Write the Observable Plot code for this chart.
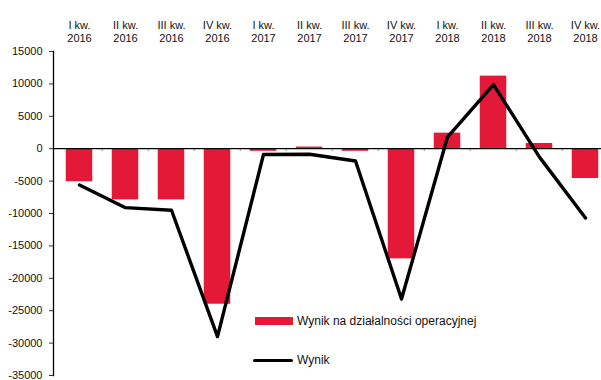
<!DOCTYPE html>
<html>
<head>
<meta charset="utf-8">
<script src="https://cdn.jsdelivr.net/npm/d3@7"></script>
<script src="https://cdn.jsdelivr.net/npm/@observablehq/plot@0.6"></script>
<style>
  html, body { margin: 0; padding: 0; background: #fff; overflow: hidden; }
  #wrap { position: relative; width: 601px; height: 380px; overflow: hidden; font-family: "Liberation Sans", Arial, sans-serif; }
  #wrap svg { max-width: none !important; height: 380px !important; width: 611px !important; }
  .leg { position: absolute; font-size: 12px; color: #111; display: flex; align-items: center; white-space: nowrap; }
  .sw { display: inline-block; margin-right: 4px; }
</style>
</head>
<body>
<div id="wrap"></div>
<script>
const categories = ["I kw.\n2016", "II kw.\n2016", "III kw.\n2016", "IV kw.\n2016",
  "I kw.\n2017", "II kw.\n2017", "III kw.\n2017", "IV kw.\n2017",
  "I kw.\n2018", "II kw.\n2018", "III kw.\n2018", "IV kw.\n2018"];
const operacyjny = [-5100, -7900, -7900, -24000, -400, 250, -400, -17000, 2400, 11200, 800, -4600];
const wynik = [-5600, -9100, -9500, -29000, -900, -850, -1900, -23200, 1800, 9900, -1300, -10700];
const yTicks = [15000, 10000, 5000, 0, -5000, -10000, -15000, -20000, -25000, -30000, -35000];
const seriesNames = ["Wynik na działalności operacyjnej", "Wynik"];
const barColor = "#e31937";
const lineColor = "#000000";

const data = categories.map((c, i) => ({cat: c, bar: operacyjny[i], line: wynik[i]}));

const W = 611, H = 380, mL = 53, mR = 0, mT = 51, mB = 5;
const step = (W - mL - mR) / categories.length;

const chart = Plot.plot({
  width: W, height: H,
  marginLeft: mL, marginRight: mR, marginTop: mT, marginBottom: mB,
  style: {fontFamily: "'Liberation Sans', Arial, sans-serif", fontSize: "11px", color: "#111", background: "#fff", maxWidth: "none"},
  x: {type: "band", domain: categories, padding: 0},
  y: {domain: [-35000, 15000]},
  marks: [
    Plot.barY(data, {x: "cat", y: "bar", fill: barColor, insetLeft: 9.75, insetRight: 9.75}),
    Plot.ruleX(categories.slice(1), {x: d => d, y1: 0, y2: -450, dx: -step / 2, stroke: "#999", strokeWidth: 1}),
    Plot.ruleY([0], {stroke: "#000", strokeWidth: 1.3}),
    Plot.frame({anchor: "left", stroke: "#000", strokeWidth: 1.3}),
    Plot.lineY(data, {x: "cat", y: "line", stroke: lineColor, strokeWidth: 3.4}),
    Plot.axisY({ticks: yTicks, tickSize: 4, tickPadding: 7, tickFormat: d => String(d), label: null, stroke: "#333"}),
    Plot.axisX({anchor: "top", tickSize: 0, tickPadding: 10, lineHeight: 1.14, label: null})
  ]
});

const wrap = document.getElementById("wrap");
wrap.appendChild(chart);

const leg1 = document.createElement("div");
leg1.className = "leg";
leg1.style.left = "255px"; leg1.style.top = "314px";
leg1.innerHTML = `<span class="sw" style="width:38px;height:8px;background:${barColor}"></span><span>${seriesNames[0]}</span>`;
wrap.appendChild(leg1);

const leg2 = document.createElement("div");
leg2.className = "leg";
leg2.style.left = "253px"; leg2.style.top = "353px";
leg2.innerHTML = `<span class="sw" style="width:40px;height:3px;background:${lineColor};border-radius:2px"></span><span>${seriesNames[1]}</span>`;
wrap.appendChild(leg2);
</script>
</body>
</html>
